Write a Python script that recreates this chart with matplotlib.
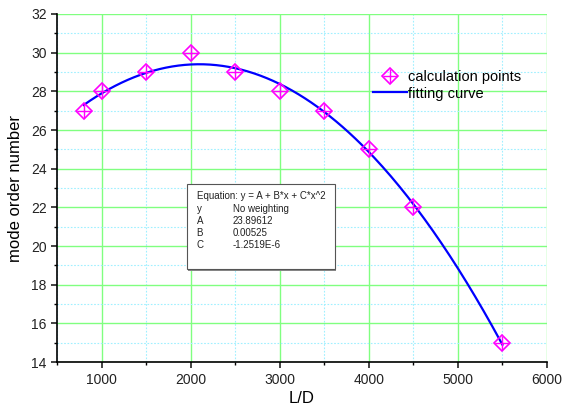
import numpy as np
import matplotlib
matplotlib.use('agg')
import matplotlib.pyplot as plt
from matplotlib.ticker import MultipleLocator
from matplotlib.legend_handler import HandlerTuple

plt.rcParams['font.family'] = ['Liberation Sans', 'DejaVu Sans']

# calculation points
ld = [800, 1000, 1500, 2000, 2500, 3000, 3500, 4000, 4500, 5500]
mode_order = [27, 28, 29, 30, 29, 28, 27, 25, 22, 15]

# fitted coefficients as printed in the box
coef_A = 23.89612
coef_B = 0.00525
coef_C = -1.2519e-6

box_names = ['y', 'A', 'B', 'C']
box_values = ['No weighting', '23.89612', '0.00525', '-1.2519E-6']

fig = plt.figure(figsize=(5.65, 4.11), dpi=100)
ax = fig.add_axes([0.101, 0.119, 0.867, 0.847])

xf = np.linspace(min(ld), max(ld), 200)
yf = coef_A + coef_B * xf + coef_C * xf ** 2
line, = ax.plot(xf, yf, color='#0000ff', lw=1.6, zorder=3)

mk1, = ax.plot(ld, mode_order, ls='none', marker='D', ms=8, mfc='none',
               mec='#ff00ff', mew=1.2, zorder=4)
mk2, = ax.plot(ld, mode_order, ls='none', marker='+', ms=10.5,
               mec='#ff00ff', mew=1.0, zorder=4)

ax.set_xlim(500, 6000)
ax.set_ylim(14, 32)
ax.xaxis.set_major_locator(MultipleLocator(1000))
ax.xaxis.set_minor_locator(MultipleLocator(500))
ax.yaxis.set_major_locator(MultipleLocator(2))
ax.yaxis.set_minor_locator(MultipleLocator(1))
ax.set_xticks([1000, 2000, 3000, 4000, 5000, 6000])

ax.grid(True, which='major', color='#80ff80', lw=1.0, ls='-', zorder=0)
ax.grid(True, which='minor', color='#a0f0ff', lw=0.8, ls=(0, (1.5, 1.5)), zorder=0)
ax.set_axisbelow(True)

for s in ['top', 'right']:
    ax.spines[s].set_visible(False)
for s in ['left', 'bottom']:
    ax.spines[s].set_linewidth(1.2)

ax.tick_params(which='major', direction='out', length=4, width=1.2,
               labelsize=10, colors='#222222')
ax.tick_params(which='minor', direction='out', length=2.5, width=1.0)

ax.set_xlabel('L/D', fontsize=12, labelpad=3)
ax.set_ylabel('mode order number', fontsize=12, labelpad=6)

ax.legend([(mk1, mk2), line], ['calculation points', 'fitting curve'],
          handler_map={tuple: HandlerTuple(ndivide=1)},
          loc='upper left', bbox_to_anchor=(0.645, 0.84), frameon=False,
          borderpad=0, borderaxespad=0,
          fontsize=10.5, handlelength=2.3, handletextpad=0.1, labelspacing=0.2)

# equation box
bx0, by0, bw, bh = 0.265, 0.267, 0.302, 0.244
shadow = plt.Rectangle((bx0 + 0.003, by0 - 0.004), bw, bh, transform=ax.transAxes,
                       facecolor='#888888', edgecolor='none', zorder=5)
rect = plt.Rectangle((bx0, by0), bw, bh, transform=ax.transAxes,
                     facecolor='white', edgecolor='#555555', lw=0.8, zorder=6)
ax.add_patch(shadow)
ax.add_patch(rect)

col1 = bx0 + 0.02
col2 = bx0 + 0.0935
top_row = by0 + bh - 0.035
dy = 0.035
ax.text(col1, top_row, 'Equation: y = A + B*x + C*x^2', transform=ax.transAxes,
        fontsize=7, va='center', ha='left', zorder=7, color='#222222')
for i, (nm, vl) in enumerate(zip(box_names, box_values)):
    yy = top_row - (i + 1) * dy
    ax.text(col1, yy, nm, transform=ax.transAxes, fontsize=7, va='center',
            ha='left', zorder=7, color='#222222')
    ax.text(col2, yy, vl, transform=ax.transAxes, fontsize=7, va='center',
            ha='left', zorder=7, color='#222222')

fig.savefig('out.png', dpi=100)
